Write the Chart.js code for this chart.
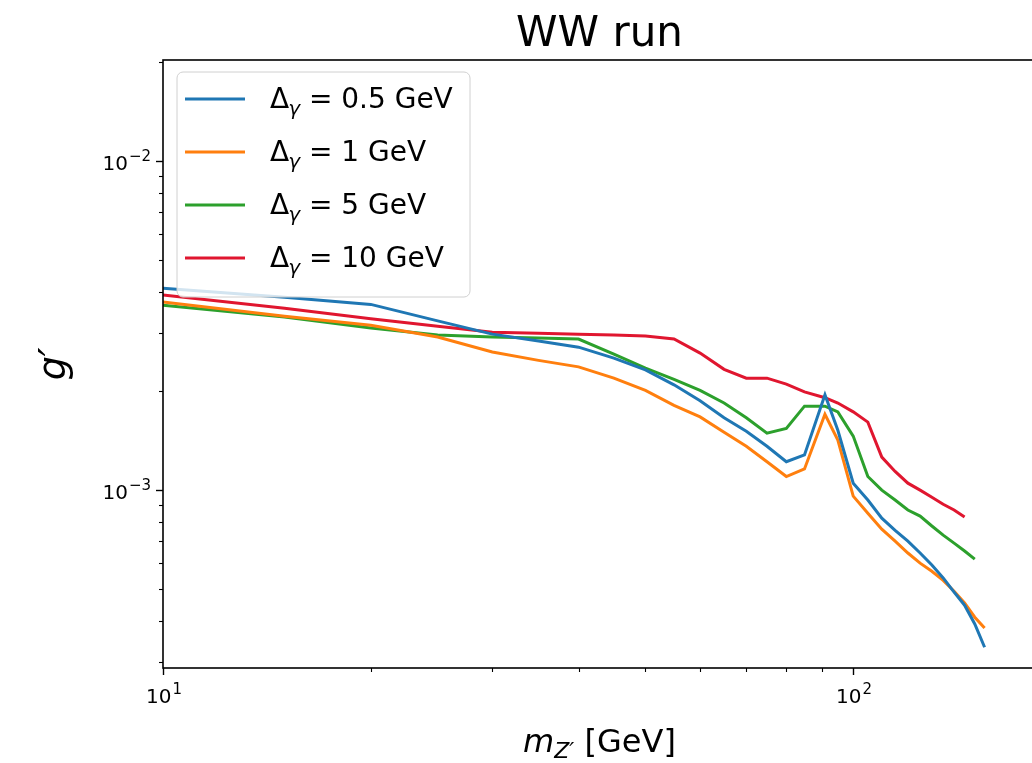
<!DOCTYPE html>
<html>
<head>
<meta charset="utf-8">
<title>WW run</title>
<script src="https://cdn.jsdelivr.net/npm/chart.js@4.4.0/dist/chart.umd.min.js"></script>
<style>
  html, body { margin: 0; padding: 0; overflow: hidden; background: #fff; }
  #wrap { width: 1040px; height: 763px; }
</style>
</head>
<body>
<div id="wrap"><canvas id="chart1" width="1040" height="763"></canvas></div>
<script>
// Z' mass points [GeV]
const masses = [10, 15, 20, 25, 30, 35, 40, 45, 50, 55, 60, 65, 70, 75, 80, 85, 91, 95, 100, 105, 110, 115, 120, 125, 130, 135, 140, 145, 150, 155];

// g' limits for each photon energy window
const gamma05 = [4.11e-3, 3.86e-3, 3.67e-3, 3.27e-3, 2.98e-3, 2.84e-3, 2.72e-3, 2.52e-3, 2.32e-3, 2.09e-3,
  1.87e-3, 1.66e-3, 1.51e-3, 1.36e-3, 1.22e-3, 1.28e-3, 1.95e-3, 1.52e-3, 1.05e-3, 9.33e-4,
  8.22e-4, 7.55e-4, 7.00e-4, 6.44e-4, 5.92e-4, 5.41e-4, 4.90e-4, 4.47e-4, 3.92e-4, 3.33e-4];
const gamma1 = [3.73e-3, 3.38e-3, 3.17e-3, 2.92e-3, 2.63e-3, 2.48e-3, 2.37e-3, 2.19e-3, 2.01e-3, 1.81e-3,
  1.67e-3, 1.50e-3, 1.36e-3, 1.22e-3, 1.10e-3, 1.16e-3, 1.70e-3, 1.42e-3, 9.59e-4, 8.51e-4,
  7.61e-4, 7.00e-4, 6.44e-4, 6.00e-4, 5.67e-4, 5.32e-4, 4.93e-4, 4.54e-4, 4.11e-4, 3.81e-4];
const gamma5 = [3.65e-3, 3.36e-3, 3.11e-3, 2.96e-3, 2.92e-3, 2.90e-3, 2.88e-3, 2.59e-3, 2.35e-3, 2.17e-3,
  2.01e-3, 1.84e-3, 1.66e-3, 1.49e-3, 1.54e-3, 1.80e-3, 1.80e-3, 1.73e-3, 1.46e-3, 1.10e-3,
  1.00e-3, 9.33e-4, 8.70e-4, 8.34e-4, 7.78e-4, 7.30e-4, 6.90e-4, 6.53e-4, 6.17e-4];
const gamma10 = [3.92e-3, 3.57e-3, 3.32e-3, 3.15e-3, 3.02e-3, 3.00e-3, 2.98e-3, 2.96e-3, 2.94e-3, 2.88e-3,
  2.61e-3, 2.33e-3, 2.19e-3, 2.19e-3, 2.10e-3, 1.99e-3, 1.91e-3, 1.84e-3, 1.73e-3, 1.61e-3,
  1.26e-3, 1.14e-3, 1.05e-3, 1.00e-3, 9.52e-4, 9.06e-4, 8.70e-4, 8.28e-4];

const windows = ['0.5', '1', '5', '10'];
const xMajor = [10, 100];
const xMajorExp = ['1', '2'];
const yMajor = [0.01, 0.001];
const yMajorExp = ['−2', '−3'];

const FONT = '"DejaVu Sans", sans-serif';
const colors = ['#1f77b4', '#ff7f0e', '#2ca02c', '#e0162f'];
const series = [gamma05, gamma1, gamma5, gamma10];

function pts(vals) {
  return vals.map((v, i) => ({x: masses[i], y: v}));
}
function isDecade(v) {
  const e = Math.log10(v);
  return Math.abs(e - Math.round(e)) < 1e-6;
}
function keepIntegerTicks(scale) {
  scale.ticks = scale.ticks.filter(t => {
    const p = Math.pow(10, Math.floor(Math.log10(t.value) + 1e-9));
    const m = t.value / p;
    return Math.abs(m - Math.round(m)) < 1e-6;
  });
}
function majorIndex(list, value) {
  return list.findIndex(t => Math.abs(value / t - 1) < 1e-6);
}
// labels only reserve room; the visible "10^n" is drawn by frameTicks
function layoutLabel(list, exps) {
  return function (value) {
    const i = majorIndex(list, value);
    return i >= 0 ? '10' + exps[i] : '';
  };
}

function drawPow(ctx, exp, x, base, align) {
  const fBase = '20px ' + FONT, fExp = '15px ' + FONT;
  ctx.font = fBase; const wb = ctx.measureText('10').width;
  ctx.font = fExp; const we = ctx.measureText(exp).width;
  let x0 = align === 'right' ? x - wb - we - 1 : x - (wb + we) / 2;
  ctx.font = fBase; ctx.fillText('10', x0, base);
  ctx.font = fExp; ctx.fillText(exp, x0 + wb + 1, base - 9);
}

// frame, major/minor tick marks and power-of-ten labels, matplotlib style
const frameTicks = {
  id: 'frameTicks',
  afterDraw(chart) {
    const {ctx, chartArea: a} = chart;
    const xs = chart.scales.x, ys = chart.scales.y;
    ctx.save();
    ctx.strokeStyle = '#000';
    ctx.fillStyle = '#000';
    ctx.textBaseline = 'alphabetic';
    ctx.lineWidth = 1.6;
    ctx.strokeRect(a.left, a.top, a.right - a.left, a.bottom - a.top);
    xs.ticks.forEach(t => {
      const px = Math.round(xs.getPixelForValue(t.value)) + 0.5;
      const major = isDecade(t.value);
      ctx.lineWidth = major ? 1.4 : 1.1;
      ctx.beginPath();
      ctx.moveTo(px, a.bottom);
      ctx.lineTo(px, a.bottom + (major ? 7 : 4));
      ctx.stroke();
      const i = majorIndex(xMajor, t.value);
      if (i >= 0) drawPow(ctx, xMajorExp[i], px, a.bottom + 35, 'center');
    });
    ys.ticks.forEach(t => {
      const py = Math.round(ys.getPixelForValue(t.value)) + 0.5;
      const major = isDecade(t.value);
      ctx.lineWidth = major ? 1.4 : 1.1;
      ctx.beginPath();
      ctx.moveTo(a.left, py);
      ctx.lineTo(a.left - (major ? 7 : 4), py);
      ctx.stroke();
      const i = majorIndex(yMajor, t.value);
      if (i >= 0) drawPow(ctx, yMajorExp[i], a.left - 12, py + 8, 'right');
    });
    ctx.restore();
  }
};

// x axis title with italic m and subscript Z'
const xTitle = {
  id: 'xTitle',
  afterDraw(chart) {
    const {ctx, chartArea: a} = chart;
    ctx.save();
    ctx.fillStyle = '#000';
    ctx.textBaseline = 'alphabetic';
    const f1 = 'italic 32px ' + FONT, f2 = 'italic 22px ' + FONT, f3 = '32px ' + FONT;
    ctx.font = f1; const w1 = ctx.measureText('m').width;
    ctx.font = f2; const w2 = ctx.measureText('Z′').width;
    ctx.font = f3; const w3 = ctx.measureText(' [GeV]').width;
    let x = (a.left + a.right) / 2 - (w1 + w2 + w3) / 2;
    const y = a.bottom + 84;
    ctx.font = f1; ctx.fillText('m', x, y); x += w1;
    ctx.font = f2; ctx.fillText('Z′', x, y + 6); x += w2;
    ctx.font = f3; ctx.fillText(' [GeV]', x, y);
    ctx.restore();
  }
};

// boxed legend inside the axes, upper left
const boxLegend = {
  id: 'boxLegend',
  afterDraw(chart) {
    const {ctx, chartArea: a} = chart;
    const x0 = a.left + 14, y0 = a.top + 12, w = 293, h = 225, r = 6;
    ctx.save();
    ctx.beginPath();
    ctx.roundRect(x0, y0, w, h, r);
    ctx.fillStyle = 'rgba(255,255,255,0.8)';
    ctx.fill();
    ctx.strokeStyle = '#d0d0d0';
    ctx.lineWidth = 1;
    ctx.stroke();
    chart.data.datasets.forEach((ds, i) => {
      const y = y0 + 27 + 53 * i;
      ctx.strokeStyle = ds.borderColor;
      ctx.lineWidth = 3;
      ctx.beginPath();
      ctx.moveTo(x0 + 8, y);
      ctx.lineTo(x0 + 68, y);
      ctx.stroke();
      ctx.fillStyle = '#000';
      ctx.textBaseline = 'alphabetic';
      let tx = x0 + 93;
      const base = y + 9;
      ctx.font = '28px ' + FONT;
      ctx.fillText('Δ', tx, base);
      tx += ctx.measureText('Δ').width;
      ctx.font = 'italic 20px ' + FONT;
      ctx.fillText('γ', tx - 1, base + 7);
      tx += ctx.measureText('γ').width - 1;
      ctx.font = '28px ' + FONT;
      ctx.fillText(' = ' + windows[i] + ' GeV', tx, base);
    });
    ctx.restore();
  }
};

const datasets = series.map((vals, i) => ({
  label: 'Δγ = ' + windows[i] + ' GeV',
  data: pts(vals),
  borderColor: colors[i],
  backgroundColor: colors[i],
  borderWidth: 3,
  pointRadius: 0,
  tension: 0,
  fill: false
}));

Chart.defaults.color = '#000';
Chart.defaults.font.family = FONT;

const config = {
  type: 'line',
  data: { datasets: datasets },
  options: {
    responsive: false,
    animation: false,
    layout: { padding: { left: 0, right: 4, top: 0, bottom: 0 } },
    plugins: {
      legend: { display: false },
      tooltip: { enabled: false },
      title: {
        display: true,
        text: 'WW run',
        fullSize: false,
        color: '#000',
        font: { family: FONT, size: 42, weight: 'normal', lineHeight: 1 },
        padding: { top: 14, bottom: 4 }
      }
    },
    scales: {
      x: {
        type: 'logarithmic',
        min: 10,
        max: 184,
        afterBuildTicks: keepIntegerTicks,
        afterFit: s => { s.height = 95; },
        border: { display: false },
        grid: { display: true, drawOnChartArea: false, drawTicks: true, tickLength: 7, tickColor: 'rgba(0,0,0,0)' },
        ticks: { autoSkip: false, maxRotation: 0, padding: 4, font: { size: 18 }, color: 'rgba(0,0,0,0)', callback: layoutLabel(xMajor, xMajorExp) }
      },
      y: {
        type: 'logarithmic',
        min: 2.88e-4,
        max: 0.0203,
        afterBuildTicks: keepIntegerTicks,
        afterFit: s => { s.width = 163; },
        border: { display: false },
        grid: { display: true, drawOnChartArea: false, drawTicks: true, tickLength: 7, tickColor: 'rgba(0,0,0,0)' },
        ticks: { autoSkip: false, padding: 5, font: { size: 18 }, color: 'rgba(0,0,0,0)', callback: layoutLabel(yMajor, yMajorExp) },
        title: {
          display: true,
          text: 'g′',
          color: '#000',
          font: { family: FONT, size: 38, style: 'italic', lineHeight: 1.2 },
          padding: { top: 32, bottom: 0 }
        }
      }
    }
  },
  plugins: [frameTicks, xTitle, boxLegend]
};

const chart1 = new Chart(document.getElementById('chart1'), config);
</script>
</body>
</html>
